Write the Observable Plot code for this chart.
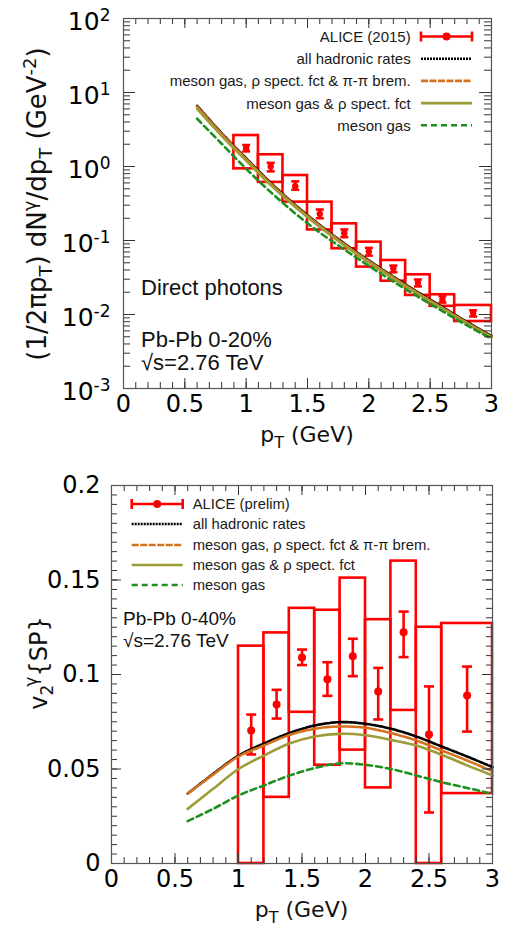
<!DOCTYPE html>
<html>
<head>
<meta charset="utf-8">
<script src="https://cdn.jsdelivr.net/npm/d3@7"></script>
<script src="https://cdn.jsdelivr.net/npm/@observablehq/plot@0.6"></script>
<style>
  body { margin: 0; background: #fff; width: 517px; }
  svg { display: block; }
  text { white-space: pre; }
</style>
</head>
<body>
<div id="top"></div>
<div id="bot"></div>
<script>
// ---------------- DATA ----------------
// Top panel: direct photon spectrum, ALICE (2015)
const specPt    = [1.0, 1.2, 1.4, 1.6, 1.8, 2.0, 2.2, 2.4, 2.6, 2.85];
const specYield = [1.77, 1.0, 0.54, 0.229, 0.1256, 0.071, 0.0423, 0.0268, 0.016, 0.0105];
const specStatLo = [1.60, 0.86, 0.485, 0.20, 0.111, 0.0625, 0.0372, 0.0240, 0.0145, 0.0094];
const specStatHi = [1.95, 1.12, 0.63, 0.262, 0.141, 0.0795, 0.0458, 0.0297, 0.0177, 0.0114];
const specBinLo = [0.9, 1.1, 1.3, 1.5, 1.7, 1.9, 2.1, 2.3, 2.5, 2.7];
const specBinHi = [1.1, 1.3, 1.5, 1.7, 1.9, 2.1, 2.3, 2.5, 2.7, 3.0];
const specSysLo = [0.93, 0.61, 0.33, 0.139, 0.0773, 0.0437, 0.0282, 0.0181, 0.0129, 0.00804];
const specSysHi = [2.62, 1.44, 0.755, 0.33, 0.168, 0.095, 0.0537, 0.0344, 0.0185, 0.01325];

// model curves (shared pT grid)
const curvePt = [0.6, 0.8, 1.0, 1.2, 1.4, 1.6, 1.8, 2.0, 2.2, 2.4, 2.6, 2.8, 3.0];
const specAll    = [6.61, 2.82, 1.29, 0.603, 0.302, 0.162, 0.0912, 0.0537, 0.0324, 0.0200, 0.0126, 0.00794, 0.00513];
const specBrem   = [6.45, 2.75, 1.26, 0.588, 0.295, 0.158, 0.089, 0.0525, 0.0317, 0.0195, 0.0123, 0.00777, 0.00502];
const specRho    = [6.0, 2.6, 1.2, 0.56, 0.283, 0.152, 0.0855, 0.0505, 0.0305, 0.0189, 0.012, 0.00755, 0.0049];
const specMeson  = [4.42, 2.03, 0.93, 0.45, 0.232, 0.128, 0.0755, 0.0455, 0.0278, 0.0174, 0.0111, 0.00715, 0.0047];

// Bottom panel: v2 of direct photons, ALICE (prelim)
const v2Pt    = [1.1, 1.3, 1.5, 1.7, 1.9, 2.1, 2.3, 2.5, 2.8];
const v2Val   = [0.0704, 0.0841, 0.109, 0.0975, 0.1097, 0.091, 0.1224, 0.0683, 0.0889];
const v2StatLo = [0.0577, 0.0767, 0.105, 0.0887, 0.0991, 0.0762, 0.1092, 0.027, 0.0698];
const v2StatHi = [0.0788, 0.0919, 0.1132, 0.1065, 0.1189, 0.1035, 0.1333, 0.0937, 0.1042];
const v2BinLo = [1.0, 1.2, 1.4, 1.6, 1.8, 2.0, 2.2, 2.4, 2.6];
const v2BinHi = [1.2, 1.4, 1.6, 1.8, 2.0, 2.2, 2.4, 2.6, 3.0];
const v2SysLo = [0, 0.035, 0.08, 0.052, 0.06, 0.04, 0.081, 0, 0.037];
const v2SysHi = [0.115, 0.122, 0.135, 0.134, 0.151, 0.129, 0.160, 0.125, 0.127];

const v2All   = [0.037, 0.0474, 0.0571, 0.0635, 0.069, 0.073, 0.0748, 0.0739, 0.0713, 0.0672, 0.0619, 0.0566, 0.051];
const v2Brem  = [0.037, 0.047, 0.0566, 0.0624, 0.068, 0.0713, 0.0725, 0.0718, 0.069, 0.0651, 0.0598, 0.0545, 0.0488];
const v2Rho   = [0.0289, 0.0395, 0.050, 0.0571, 0.0635, 0.0672, 0.0686, 0.0679, 0.0654, 0.0624, 0.0575, 0.0519, 0.0466];
const v2Meson = [0.0224, 0.0289, 0.036, 0.0413, 0.0465, 0.0505, 0.053, 0.0522, 0.050, 0.0466, 0.043, 0.040, 0.0368];

// tick labels
const xTicks = [0, 0.5, 1, 1.5, 2, 2.5, 3];
const yTopTicks = [1e-3, 1e-2, 1e-1, 1e0, 1e1, 1e2];
const yBotTicks = [0, 0.05, 0.1, 0.15, 0.2];

// legend labels
const legendTop = ["ALICE (2015)", "all hadronic rates", "meson gas, ρ spect. fct & π-π brem.", "meson gas & ρ spect. fct", "meson gas"];
const legendBot = ["ALICE (prelim)", "all hadronic rates", "meson gas, ρ spect. fct & π-π brem.", "meson gas & ρ spect. fct", "meson gas"];

// ---------------- STYLE ----------------
const RED = "#ff0000";
const series = [
  {stroke: "#000000", dash: "2,1"},
  {stroke: "#d4731f", dash: "7,1.5"},
  {stroke: "#9c9c38", dash: null},
  {stroke: "#1f8f1f", dash: "6,4"}
];
const W = 517;
const capSym = { draw(ctx, size) { const r = Math.sqrt(size / Math.PI); ctx.moveTo(-r, 0); ctx.lineTo(r, 0); } };

function rich(sel, parts, attrs, small, sub, sup) {
  const t = sel.append("text").attr("text-anchor", "start");
  for (const [k, v] of Object.entries(attrs)) t.attr(k, v);
  let cur = 0;
  for (const p of parts) {
    const [str, kind, dx] = Array.isArray(p) ? p : [p, null, 0];
    const target = kind === "sub" ? sub : kind === "sup" ? -sup : 0;
    const ts = t.append("tspan").text(str);
    if (target !== cur) ts.attr("dy", target - cur);
    if (dx) ts.attr("dx", dx);
    if (kind) ts.attr("font-size", small);
    cur = target;
  }
  return t;
}

function ticksMarks(xMaj, xMin, yMaj, yMin, innerW, innerH, lx, sx, ly, sy) {
  const st = {stroke: "#333", strokeWidth: 1};
  return [
    Plot.tickX(xMaj, {x: d => d, insetTop: innerH - lx, ...st}),
    Plot.tickX(xMaj, {x: d => d, insetBottom: innerH - lx, ...st}),
    Plot.tickX(xMin, {x: d => d, insetTop: innerH - sx, ...st}),
    Plot.tickX(xMin, {x: d => d, insetBottom: innerH - sx, ...st}),
    Plot.tickY(yMaj, {y: d => d, insetRight: innerW - ly, ...st}),
    Plot.tickY(yMaj, {y: d => d, insetLeft: innerW - ly, ...st}),
    Plot.tickY(yMin, {y: d => d, insetRight: innerW - sy, ...st}),
    Plot.tickY(yMin, {y: d => d, insetLeft: innerW - sy, ...st})
  ];
}

function curveMarks(arrs) {
  return arrs.map((arr, k) => Plot.line(curvePt.map((x, i) => ({x, y: arr[i]})), {
    x: "x", y: "y", stroke: series[k].stroke, strokeWidth: 2.6,
    strokeDasharray: series[k].dash, curve: "catmull-rom"
  }));
}

function legend(svg, labels, textX, anchor, sampleX1, sampleX2, rows, fontSize) {
  const g = svg.append("g");
  labels.forEach((lab, i) => {
    g.append("text").attr("x", textX).attr("y", rows[i]).attr("dy", "0.36em")
      .attr("text-anchor", anchor).attr("font-family", "Liberation Sans, Arial, sans-serif")
      .attr("font-size", fontSize).attr("fill", "#1a1a1a").text(lab);
    if (i === 0) {
      const y = rows[i], xm = (sampleX1 + sampleX2) / 2;
      g.append("line").attr("x1", sampleX1).attr("x2", sampleX2).attr("y1", y).attr("y2", y).attr("stroke", RED).attr("stroke-width", 2.6);
      for (const xx of [sampleX1, sampleX2]) g.append("line").attr("x1", xx).attr("x2", xx).attr("y1", y - 5).attr("y2", y + 5).attr("stroke", RED).attr("stroke-width", 2.6);
      g.append("circle").attr("cx", xm).attr("cy", y).attr("r", 4).attr("fill", RED);
    } else {
      const s = series[i - 1];
      const ln = g.append("line").attr("x1", sampleX1).attr("x2", sampleX2).attr("y1", rows[i]).attr("y2", rows[i])
        .attr("stroke", s.stroke).attr("stroke-width", 2.6);
      if (s.dash) ln.attr("stroke-dasharray", s.dash);
    }
  });
}

// ---------------- TOP PANEL ----------------
{
  const H = 460, mL = 123, mR = 26, mT = 18, mB = 72;
  const innerW = W - mL - mR, innerH = H - mT - mB;
  const spec = specPt.map((x, i) => ({x, y: specYield[i], lo: specStatLo[i], hi: specStatHi[i],
    x1: specBinLo[i], x2: specBinHi[i], s1: specSysLo[i], s2: specSysHi[i]}));
  const xMinor = d3.range(0, 31).map(i => i / 10);
  const yMinor = [];
  for (let d = -3; d <= 1; d++) for (let m = 2; m <= 9; m++) yMinor.push(m * Math.pow(10, d));

  const svgNode = Plot.plot({
    width: W, height: H, marginLeft: mL, marginRight: mR, marginTop: mT, marginBottom: mB,
    style: {fontFamily: "DejaVu Sans, sans-serif", fontSize: "24px", color: "#000", background: "#fff", overflow: "visible"},
    x: {domain: [0, 3]},
    y: {type: "log", domain: [1e-3, 1e2]},
    marks: [
      Plot.rect(spec, {x1: "x1", x2: "x2", y1: "s1", y2: "s2", fill: "none", stroke: RED, strokeWidth: 2.6}),
      Plot.ruleX(spec, {x: "x", y1: "lo", y2: "hi", stroke: RED, strokeWidth: 3}),
      Plot.dot(spec, {x: "x", y: "lo", symbol: capSym, r: 4, fill: "none", stroke: RED, strokeWidth: 2.6}),
      Plot.dot(spec, {x: "x", y: "hi", symbol: capSym, r: 4, fill: "none", stroke: RED, strokeWidth: 2.6}),
      Plot.dot(spec, {x: "x", y: "y", r: 3.2, fill: RED}),
      ...curveMarks([specAll, specBrem, specRho, specMeson]),
      ...ticksMarks(xTicks, xMinor, yTopTicks, yMinor, innerW, innerH, 10, 6, 12, 7),
      Plot.axisX({ticks: xTicks, tickSize: 0, tickPadding: 6, tickFormat: d => String(d), label: null}),
      Plot.axisY({ticks: yTopTicks, tickSize: 0, tickPadding: 13, dy: 3, fontSize: 25,
        tickFormat: d => "10^" + Math.round(Math.log10(d)), label: null}),
      Plot.frame({stroke: "#555", strokeWidth: 1.2})
    ]
  });
  document.getElementById("top").appendChild(svgNode);
  const svg = d3.select(svgNode);
  svg.selectAll('[aria-label="y-axis tick label"] text').each(function () {
    const [b, e] = this.textContent.split("^");
    const s = d3.select(this);
    s.text(b);
    s.append("tspan").attr("dy", -9).attr("font-size", 17).text(e);
  });
  // axis titles
  rich(svg, ["p", ["T", "sub"], " (GeV)"],
    {x: 307, y: 442, "text-anchor": "middle", "font-family": "DejaVu Sans, sans-serif", "font-size": 22, fill: "#111"}, 16, 6, 9);
  rich(svg, ["(1/2πp", ["T", "sub"], ") dN", ["γ", "sup"], "/dp", ["T", "sub"], " (GeV", ["-2", "sup"], ")"],
    {transform: "translate(46,204) rotate(-90)", "text-anchor": "middle", "font-family": "DejaVu Sans, sans-serif", "font-size": 26, fill: "#111"}, 18, 6, 10);
  // annotations
  const ann = {"font-family": "Liberation Sans, Arial, sans-serif", "font-size": 22, fill: "#111"};
  rich(svg, ["Direct photons"], {x: 141, y: 295, ...ann}, 16, 0, 0);
  rich(svg, ["Pb-Pb 0-20%"], {x: 141, y: 347, ...ann}, 16, 0, 0);
  rich(svg, ["√s=2.76 TeV"], {x: 141, y: 370, ...ann}, 16, 0, 0);
  legend(svg, legendTop, 410.7, "end", 421, 472, [36.5, 58.7, 80.9, 103.1, 125.3], 15);
}

// ---------------- BOTTOM PANEL ----------------
{
  const H = 468, mL = 111, mR = 25, mT = 25, mB = 65;
  const innerW = W - mL - mR, innerH = H - mT - mB;
  const v2 = v2Pt.map((x, i) => ({x, y: v2Val[i], lo: v2StatLo[i], hi: v2StatHi[i],
    x1: v2BinLo[i], x2: v2BinHi[i], s1: v2SysLo[i], s2: v2SysHi[i]}));
  const xMinor = d3.range(0, 31).map(i => i / 10);
  const yMinor = d3.range(0, 41).map(i => i * 0.005);

  const svgNode = Plot.plot({
    width: W, height: H, marginLeft: mL, marginRight: mR, marginTop: mT, marginBottom: mB,
    style: {fontFamily: "DejaVu Sans, sans-serif", fontSize: "24px", color: "#000", background: "#fff", overflow: "visible"},
    x: {domain: [0, 3]},
    y: {domain: [0, 0.2]},
    marks: [
      Plot.rect(v2, {x1: "x1", x2: "x2", y1: "s1", y2: "s2", fill: "none", stroke: RED, strokeWidth: 2.6}),
      Plot.ruleX(v2, {x: "x", y1: "lo", y2: "hi", stroke: RED, strokeWidth: 2.6}),
      Plot.dot(v2, {x: "x", y: "lo", symbol: capSym, r: 5, fill: "none", stroke: RED, strokeWidth: 2.6}),
      Plot.dot(v2, {x: "x", y: "hi", symbol: capSym, r: 5, fill: "none", stroke: RED, strokeWidth: 2.6}),
      Plot.dot(v2, {x: "x", y: "y", r: 4, fill: RED}),
      ...curveMarks([v2All, v2Brem, v2Rho, v2Meson]),
      ...ticksMarks(xTicks, xMinor, yBotTicks, yMinor, innerW, innerH, 10, 6, 10, 6),
      Plot.axisX({ticks: xTicks, tickSize: 0, tickPadding: 6, tickFormat: d => String(d), label: null}),
      Plot.axisY({ticks: yBotTicks, tickSize: 0, tickPadding: 11, tickFormat: d => String(d), label: null}),
      Plot.frame({stroke: "#555", strokeWidth: 1.2})
    ]
  });
  document.getElementById("bot").appendChild(svgNode);
  const svg = d3.select(svgNode);
  rich(svg, ["p", ["T", "sub"], " (GeV)"],
    {x: 301.5, y: 457, "text-anchor": "middle", "font-family": "DejaVu Sans, sans-serif", "font-size": 22, fill: "#111"}, 16, 6, 9);
  rich(svg, ["v", ["2", "sub"], ["γ", "sup", -2], "{SP}"],
    {transform: "translate(47,203) rotate(-90)", "text-anchor": "middle", "font-family": "DejaVu Sans, sans-serif", "font-size": 24, fill: "#111"}, 17, 6, 10);
  const ann = {"font-family": "Liberation Sans, Arial, sans-serif", "font-size": 19, fill: "#111"};
  rich(svg, ["Pb-Pb 0-40%"], {x: 123, y: 165, ...ann}, 14, 0, 0);
  rich(svg, ["√s=2.76 TeV"], {x: 123, y: 187, ...ann}, 14, 0, 0);
  legend(svg, legendBot, 192.7, "start", 131.7, 182.7, [44, 64, 85, 105, 125], 14.8);
}
</script>
</body>
</html>
